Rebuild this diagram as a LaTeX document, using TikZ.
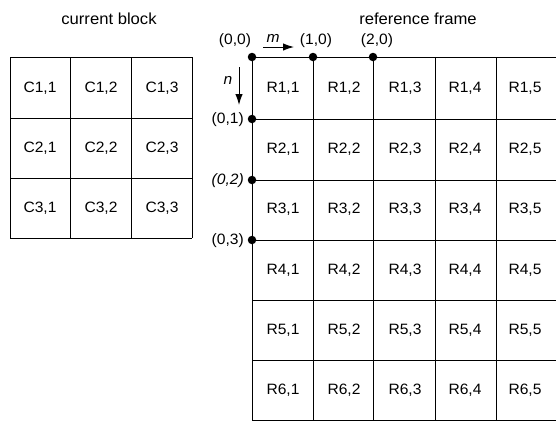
\documentclass[tikz,border=0pt]{standalone}
\usepackage{fontspec}
\setmainfont[FakeStretch=1.04]{Liberation Sans}
\usetikzlibrary{arrows.meta}
\begin{document}
\begin{tikzpicture}[x=1pt,y=-1pt,
  every node/.style={font=\fontsize{15}{17}\selectfont},
  title/.style={font=\fontsize{16}{18}\selectfont},
  gridline/.style={line width=1pt},
  dot/.style={circle,fill=black,inner sep=0pt,minimum size=8.5pt},
  arr/.style={-{Latex[length=11pt,width=7.5pt]},line width=1pt}]
\useasboundingbox (0,0) rectangle (556,421);
% titles
\node[title] (tc) at (109,19) {current block};
\node[title] (tr) at (418,19) {reference frame};
% current block
\foreach \x in {10,70,131,192} \draw[gridline] (\x,57) -- (\x,238);
\foreach \y in {57,118,178,238} \draw[gridline] (10,\y) -- (192,\y);
\foreach \r/\y in {1/88,2/148,3/208}
  \foreach \c/\x in {1/40,2/101,3/162}
    \node (c\r\c) at (\x,\y) {C\r,\c};
% reference frame grid
\foreach \x in {252,313,373,435,496} \draw[gridline] (\x,57) -- (\x,421);
\foreach \y in {57,119,180,240,300,360,420} \draw[gridline] (252,\y) -- (556,\y);
\foreach \r/\y in {1/88,2/149,3/209,4/270,5/330,6/390}
  \foreach \c/\x in {1/283,2/344,3/405,4/465,5/525}
    \node (r\r\c) at (\x,\y) {R\r,\c};
% dots
\node[dot] (p00) at (252,57) {};
\node[dot] (p10) at (313,57) {};
\node[dot] (p20) at (373,57) {};
\node[dot] (p01) at (252,119) {};
\node[dot] (p02) at (252,180) {};
\node[dot] (p03) at (252,240) {};
\node (l00) at (235,41) {(0,0)};
\node (l10) at (316,41) {(1,0)};
\node (l20) at (377,41) {(2,0)};
\node[anchor=east,inner sep=0pt] (l01) at (244,120) {(0,1)};
\node[anchor=east,inner sep=0pt,font=\fontsize{15}{17}\selectfont\itshape] (l02) at (244,181) {(0,2)};
\node[anchor=east,inner sep=0pt] (l03) at (244,241) {(0,3)};
% axes
\coordinate (ma) at (263,47);
\coordinate (mb) at (294,47);
\draw[arr] (ma) -- (mb);
\node[font=\fontsize{15}{17}\selectfont\itshape] (m) at (273,38) {m};
\coordinate (na) at (239,67);
\coordinate (nb) at (239,105);
\draw[arr] (na) -- (nb);
\node[font=\fontsize{15}{17}\selectfont\itshape] (n) at (228,80) {n};
\end{tikzpicture}
\end{document}
